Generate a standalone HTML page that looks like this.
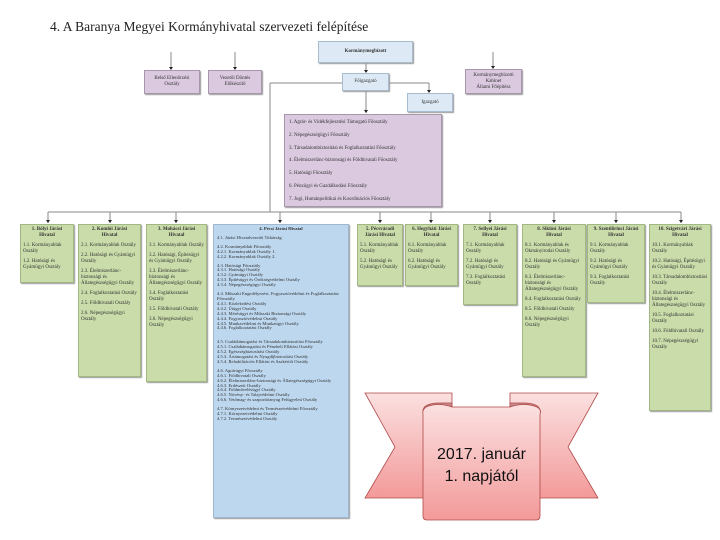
<!DOCTYPE html>
<html><head><meta charset="utf-8"><style>
body{margin:0;width:720px;height:540px;background:#fff;position:relative;overflow:hidden;font-family:"Liberation Serif",serif;}
.b{position:absolute;box-sizing:border-box;font-size:5px;line-height:6px;color:#333;padding:2px 2px;}
.g{background:#c9dca9;border:1px solid #a2b882;box-shadow:1px 1px 1px #999;}
.p{background:#dac9df;border:1px solid #a896ad;box-shadow:1px 1px 1px #999;}
.l{background:#dde9f5;border:1px solid #a8bcd0;box-shadow:1px 1px 1px #999;}
.bl{background:#bdd7ee;border:1px solid #9fb8d0;box-shadow:1px 1px 1px #999;font-size:4.6px;line-height:4.9px;}
.h{font-weight:bold;text-align:center;margin-bottom:4px;}
.b p{margin:0 0 4px 0;}
.c{display:flex;align-items:center;justify-content:center;text-align:center;}
</style></head><body>
<div style="position:absolute;left:50px;top:19px;font-size:13.5px;color:#222;">4. A Baranya Megyei Kormányhivatal szervezeti felépítése</div>
<svg width="720" height="540" style="position:absolute;left:0;top:0">
<g stroke="#888" stroke-width="1" fill="none">
<line x1="171" y1="52" x2="171" y2="69"/><line x1="235" y1="52" x2="235" y2="69"/><line x1="493" y1="52" x2="493" y2="68"/>
<line x1="366" y1="63" x2="366" y2="72"/>
<line x1="389" y1="83" x2="429" y2="83"/><line x1="429" y1="83" x2="429" y2="92"/>
<line x1="342" y1="83" x2="270" y2="83"/><line x1="270" y1="83" x2="270" y2="212"/>
<line x1="366" y1="91" x2="366" y2="113"/>
<line x1="48" y1="212" x2="681" y2="212"/>
<line x1="48" y1="212" x2="48" y2="223"/><line x1="110" y1="212" x2="110" y2="223"/><line x1="176" y1="212" x2="176" y2="223"/><line x1="280" y1="212" x2="280" y2="223"/><line x1="380" y1="212" x2="380" y2="223"/><line x1="431" y1="212" x2="431" y2="223"/><line x1="490" y1="212" x2="490" y2="223"/><line x1="554" y1="212" x2="554" y2="223"/><line x1="616" y1="212" x2="616" y2="223"/><line x1="681" y1="212" x2="681" y2="223"/>
</g>
<g fill="#222">
<path d="M169,67h4l-2,3z"/><path d="M233,67h4l-2,3z"/><path d="M491,66h4l-2,3z"/><path d="M364,70h4l-2,3z"/><path d="M427,90h4l-2,3z"/><path d="M364,110h4l-2,3z"/>
<path d="M46,220h4l-2,3z"/><path d="M108,220h4l-2,3z"/><path d="M174,220h4l-2,3z"/><path d="M278,220h4l-2,3z"/><path d="M378,220h4l-2,3z"/><path d="M429,220h4l-2,3z"/><path d="M488,220h4l-2,3z"/><path d="M552,220h4l-2,3z"/><path d="M614,220h4l-2,3z"/><path d="M679,220h4l-2,3z"/>
</g>
</svg>
<div class="b l c" style="left:318px;top:41px;width:95px;height:22px;font-weight:bold;">Kormánymegbízott</div>
<div class="b l c" style="left:342px;top:73px;width:47px;height:18px;">Főigazgató</div>
<div class="b l c" style="left:407px;top:93px;width:46px;height:19px;">Igazgató</div>
<div class="b p c" style="left:144px;top:70px;width:56px;height:24px;">Belső Ellenőrzési<br>Osztály</div>
<div class="b p c" style="left:208px;top:70px;width:54px;height:24px;">Vezetői Döntés<br>Előkészítő</div>
<div class="b p c" style="left:465px;top:69px;width:57px;height:25px;">Kormánymegbízotti<br>Kabinet<br>Állami Főépítész</div>
<div class="b p" style="left:284px;top:114px;width:158px;height:93px;padding:2px 4px;line-height:12.8px;">
1. Agrár- és Vidékfejlesztési Támogató Főosztály<br>2. Népegészségügyi Főosztály<br>3. Társadalombiztosítási és Foglalkoztatási Főosztály<br>4. Élelmiszerlánc-biztonsági és Földhivatali Főosztály<br>5. Hatósági Főosztály<br>6. Pénzügyi és Gazdálkodási Főosztály<br>7. Jogi, Humánpolitikai és Koordinációs Főosztály</div>

<div class="b g" style="left:20px;top:224px;width:54px;height:59px;"><div class="h">1. Bólyi Járási<br>Hivatal</div><p>1.1. Kormányablak Osztály</p><p>1.2. Hatósági és Gyámügyi Osztály</p></div>
<div class="b g" style="left:78px;top:224px;width:63px;height:153px;"><div class="h">2. Komlói Járási<br>Hivatal</div><p>2.1. Kormányablak Osztály</p><p>2.2. Hatósági és Gyámügyi Osztály</p><p>2.3. Élelmiszerlánc-biztonsági és Állategészségügyi Osztály</p><p>2.4. Foglalkoztatási Osztály</p><p>2.5. Földhivatali Osztály</p><p>2.6. Népegészségügyi Osztály</p></div>
<div class="b g" style="left:146px;top:224px;width:61px;height:158px;"><div class="h">3. Mohácsi Járási<br>Hivatal</div><p>3.1. Kormányablak Osztály</p><p>3.2. Hatósági, Építésügyi és Gyámügyi Osztály</p><p>3.3. Élelmiszerlánc-biztonsági és Állategészségügyi Osztály</p><p>3.4. Foglalkoztatási Osztály</p><p>3.5. Földhivatali Osztály</p><p>3.6. Népegészségügyi Osztály</p></div>
<div class="b bl" style="left:213px;top:224px;width:136px;height:294px;padding:2px 3px;"><div class="h">4. Pécsi Járási Hivatal</div>
<p>4.1. Járási Hivatalvezetői Titkárság</p>
<p>4.2. Kormányablak Főosztály<br>4.2.1. Kormányablak Osztály 1.<br>4.2.2. Kormányablak Osztály 2.</p>
<p>4.3. Hatósági Főosztály<br>4.3.1. Hatósági Osztály<br>4.3.2. Gyámügyi Osztály<br>4.3.3. Építésügyi és Örökségvédelmi Osztály<br>4.3.4. Népegészségügyi Osztály</p>
<p style="margin-bottom:9px">4.4. Műszaki Engedélyezési, Fogyasztóvédelmi és Foglalkoztatási Főosztály<br>4.4.1. Közlekedési Osztály<br>4.4.2. Útügyi Osztály<br>4.4.3. Mérésügyi és Műszaki Biztonsági Osztály<br>4.4.4. Fogyasztóvédelmi Osztály<br>4.4.5. Munkavédelmi és Munkaügyi Osztály<br>4.4.6. Foglalkoztatási Osztály</p>
<p>4.5. Családtámogatási és Társadalombiztosítási Főosztály<br>4.5.1. Családtámogatási és Pénzbeli Ellátási Osztály<br>4.5.2. Egészségbiztosítási Osztály<br>4.5.3. Ártámogatási és Nyugdíjbiztosítási Osztály<br>4.5.4. Rehabilitációs Ellátási és Szakértői Osztály</p>
<p>4.6. Agrárügyi Főosztály<br>4.6.1. Földhivatali Osztály<br>4.6.2. Élelmiszerlánc-biztonsági és Állategészségügyi Osztály<br>4.6.3. Erdészeti Osztály<br>4.6.4. Földművelésügyi Osztály<br>4.6.5. Növény- és Talajvédelmi Osztály<br>4.6.6. Vetőmag- és szaporítóanyag Felügyeleti Osztály</p>
<p>4.7. Környezetvédelmi és Természetvédelmi Főosztály<br>4.7.1. Környezetvédelmi Osztály<br>4.7.2. Természetvédelmi Osztály</p></div>
<div class="b g" style="left:357px;top:224px;width:46px;height:62px;"><div class="h">5. Pécsváradi<br>Járási Hivatal</div><p>5.1. Kormányablak Osztály</p><p>5.2. Hatósági és Gyámügyi Osztály</p></div>
<div class="b g" style="left:405px;top:224px;width:53px;height:62px;"><div class="h">6. Hegyháti Járási<br>Hivatal</div><p>6.1. Kormányablak Osztály</p><p>6.2. Hatósági és Gyámügyi Osztály</p></div>
<div class="b g" style="left:463px;top:224px;width:54px;height:81px;"><div class="h">7. Sellyei Járási<br>Hivatal</div><p>7.1. Kormányablak Osztály</p><p>7.2. Hatósági és Gyámügyi Osztály</p><p>7.3. Foglalkoztatási Osztály</p></div>
<div class="b g" style="left:522px;top:224px;width:64px;height:153px;"><div class="h">8. Siklósi Járási<br>Hivatal</div><p>8.1. Kormányablak és Okmányirodai Osztály</p><p>8.2. Hatósági és Gyámügyi Osztály</p><p>8.3. Élelmiszerlánc-biztonsági és Állategészségügyi Osztály</p><p>8.4. Foglalkoztatási Osztály</p><p>8.5. Földhivatali Osztály</p><p>8.6. Népegészségügyi Osztály</p></div>
<div class="b g" style="left:587px;top:224px;width:58px;height:79px;"><div class="h">9. Szentlőrinci Járási<br>Hivatal</div><p>9.1. Kormányablak Osztály</p><p>9.2. Hatósági és Gyámügyi Osztály</p><p>9.3. Foglalkoztatási Osztály</p></div>
<div class="b g" style="left:649px;top:224px;width:62px;height:187px;"><div class="h">10. Szigetvári Járási<br>Hivatal</div><p>10.1. Kormányablak Osztály</p><p>10.2. Hatósági, Építésügyi és Gyámügyi Osztály</p><p>10.3. Társadalombiztosítási Osztály</p><p>10.4. Élelmiszerlánc-biztonsági és Állategészségügyi Osztály</p><p>10.5. Foglalkoztatási Osztály</p><p>10.6. Földhivatali Osztály</p><p>10.7. Népegészségügyi Osztály</p></div>

<svg width="720" height="540" style="position:absolute;left:0;top:0">
<defs><linearGradient id="rg" x1="0" y1="0" x2="0" y2="1"><stop offset="0" stop-color="#fbe0e0"/><stop offset="1" stop-color="#f39a9a"/></linearGradient></defs>
<g stroke="#b04a48" stroke-width="0.8">
<path d="M365,393 L452,393 L452,498 L365,498 L395,447 Z" fill="url(#rg)"/>
<path d="M598,393 L510,393 L510,498 L598,498 L568,447 Z" fill="url(#rg)"/>
<path d="M423,411 Q423,404 437,403 L452,403 L452,415 Z" fill="#c48a8a"/>
<path d="M540,411 Q540,404 526,403 L510,403 L510,415 Z" fill="#c48a8a"/>
<path d="M426,407 Q438,402 452,407 L510,407 Q524,402 537,407 Q542,410 540,414 L540,516 Q540,520 536,520 L427,520 Q423,520 423,516 L423,414 Q422,410 426,407 Z" fill="url(#rg)"/>
</g>
</svg>
<div style="position:absolute;left:423px;top:444px;width:117px;text-align:center;font-family:'Liberation Sans',sans-serif;font-size:16px;line-height:22px;color:#111;">2017. január<br>1. napjától</div>
</body></html>
